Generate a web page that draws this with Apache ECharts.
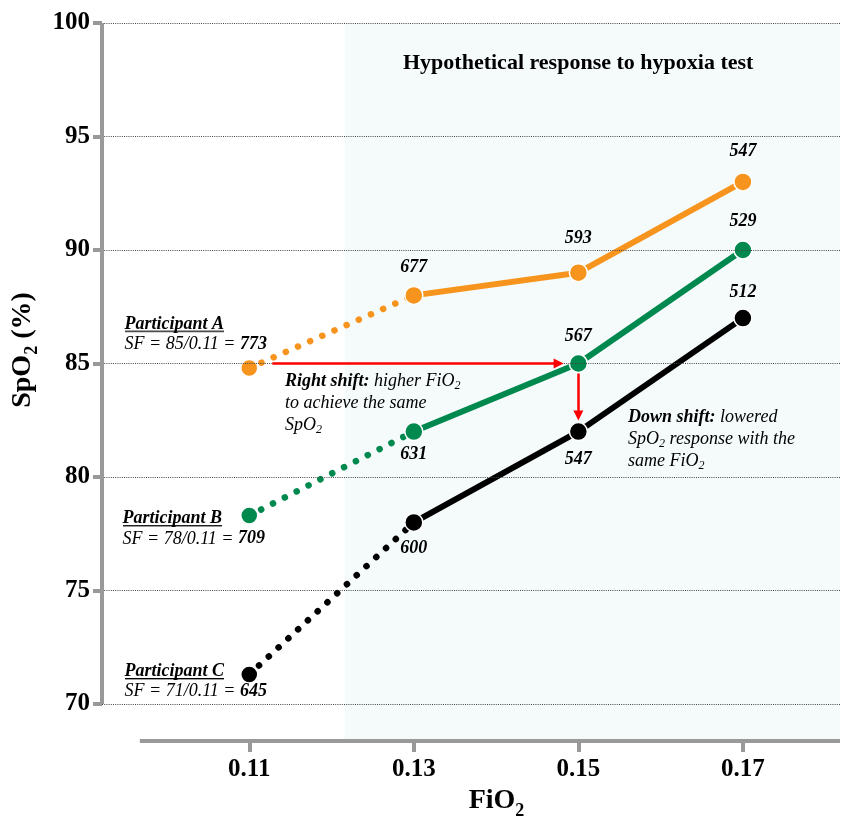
<!DOCTYPE html>
<html>
<head>
<meta charset="utf-8">
<script src="https://cdn.jsdelivr.net/npm/echarts@6/dist/echarts.min.js"></script>
<style>html,body{margin:0;padding:0;background:#fff}#c{width:841px;height:819px}</style>
</head>
<body>
<div id="c"></div>
<script>
// ---- data ----
const fio2 = [0.11, 0.13, 0.15, 0.17];
const spo2A = [84.8, 88, 89, 93];
const spo2B = [78.3, 82, 85, 90];
const spo2C = [71.3, 78, 82, 87];
const sfA = [773, 677, 593, 547];
const sfB = [709, 631, 567, 529];
const sfC = [645, 600, 547, 512];
const baseSpO2 = [85, 78, 71];
const participantNames = ['Participant A', 'Participant B', 'Participant C'];
const yTicks = [70, 75, 80, 85, 90, 95, 100];
const testStartFiO2 = 0.1216;

// ---- layout / style ----
const SERIF = '"Liberation Serif", "Times New Roman", Times, serif';
const X_MIN = 0.0921, X_MAX = 0.1818, Y_MIN = 68.37, Y_MAX = 100;
const X_AXIS_START = 0.0967;
const COLORS = ['#f7941d', '#00894f', '#000000'];
const LABEL_CFG = [
  [{position: 'top', distance: 9}, {position: 'top', distance: 16}, {position: 'top', distance: 12}],
  [{position: 'bottom', distance: 4}, {position: 'top', distance: 8}, {position: 'top', distance: 10}],
  [{position: 'bottom', distance: 7}, {position: 'bottom', distance: 9}, {position: 'top', distance: 7}]
];
const PART_LABEL_POS = [[-115.5, -44.5], [-117.5, 2.5], [-115.5, -3.5]];

function underlineImg() {
  const c = document.createElement('canvas');
  c.width = 8; c.height = 20;
  const g = c.getContext('2d');
  g.fillStyle = '#000';
  g.fillRect(0, 17, 8, 1.4);
  return c;
}
const UL = underlineImg();

const txt = (extra) => Object.assign({fontFamily: SERIF, color: '#000'}, extra);

const partRich = {
  u: txt({fontSize: 18, fontStyle: 'italic', fontWeight: 'bold', lineHeight: 20, backgroundColor: {image: UL}}),
  t: txt({fontSize: 18, fontStyle: 'italic', lineHeight: 20}),
  b: txt({fontSize: 18, fontStyle: 'italic', fontWeight: 'bold', lineHeight: 20})
};

function participantSeries(idx, ys, sfs) {
  const color = COLORS[idx];
  const solidData = [1, 2, 3].map((k, j) => ({
    value: [fio2[k], ys[k]],
    label: Object.assign({show: true, formatter: String(sfs[k])}, LABEL_CFG[idx][j])
  }));
  const dottedData = [
    {
      value: [fio2[0], ys[0]],
      symbol: 'circle',
      symbolSize: 17,
      label: {
        show: true,
        position: PART_LABEL_POS[idx],
        align: 'left',
        verticalAlign: 'top',
        formatter: '{u|' + participantNames[idx] + '}\n{t|SF = ' + baseSpO2[idx] + '/' + fio2[0].toFixed(2) + ' = }{b|' + sfs[0] + '}',
        rich: partRich
      }
    },
    {value: [fio2[1], ys[1]], symbol: 'none'}
  ];
  return [
    {
      type: 'line', z: 3, data: dottedData, silent: true,
      itemStyle: {color: color, borderColor: '#fff', borderWidth: 1.5},
      lineStyle: {color: color, width: 6.5, type: [0.1, 13.2], cap: 'round'},
      emphasis: {disabled: true}
    },
    {
      type: 'line', z: 4, data: solidData, silent: true,
      symbol: 'circle', symbolSize: 18,
      itemStyle: {color: color, borderColor: '#fff', borderWidth: 1.5},
      lineStyle: {color: color, width: 6},
      label: txt({fontSize: 18, fontStyle: 'italic', fontWeight: 'bold'}),
      emphasis: {disabled: true}
    }
  ];
}

const annRich = {
  rb: txt({fontSize: 18, fontStyle: 'italic', fontWeight: 'bold', lineHeight: 22}),
  ri: txt({fontSize: 18, fontStyle: 'italic', lineHeight: 22}),
  rs: txt({fontSize: 12, fontStyle: 'italic', verticalAlign: 'top', padding: [10, 0, 0, 0]})
};

const chart = echarts.init(document.getElementById('c'), null, {renderer: 'canvas'});

const option = {
  animation: false,
  backgroundColor: '#fff',
  title: {
    text: 'Hypothetical response to hypoxia test',
    left: 403, top: 52, padding: 0,
    textStyle: txt({fontSize: 22, fontWeight: 'bold'})
  },
  grid: {left: 102, right: 1, top: 23, bottom: 78, containLabel: false, outerBoundsMode: 'none'},
  xAxis: {
    type: 'value', min: X_MIN, max: X_MAX,
    axisLine: {show: false},
    axisTick: {show: true, customValues: fio2, length: 11, lineStyle: {color: '#999', width: 4}},
    axisLabel: Object.assign({customValues: fio2, formatter: v => v.toFixed(2), margin: 16, fontSize: 25, fontWeight: 'bold'}, txt({})),
    splitLine: {show: false},
    name: '{m|FiO}{s|2}',
    nameLocation: 'middle', nameGap: 36,
    nameTextStyle: {
      padding: [0, 0, 0, 51],
      rich: {
        m: txt({fontSize: 28, fontWeight: 'bold'}),
        s: txt({fontSize: 18, fontWeight: 'bold', verticalAlign: 'top', padding: [20, 0, 0, 0]})
      }
    }
  },
  yAxis: {
    type: 'value', min: Y_MIN, max: Y_MAX,
    axisLine: {show: false},
    axisTick: {show: true, customValues: yTicks, length: 9, lineStyle: {color: '#999', width: 4}},
    axisLabel: Object.assign({customValues: yTicks, margin: 12, fontSize: 25, fontWeight: 'bold'}, txt({})),
    splitLine: {show: false},
    name: '{m|SpO}{s|2}{m| (%)}',
    nameLocation: 'middle', nameGap: 56,
    nameTextStyle: {
      padding: [0, 0, 0, 64],
      rich: {
        m: txt({fontSize: 28, fontWeight: 'bold'}),
        s: txt({fontSize: 18, fontWeight: 'bold', verticalAlign: 'top', padding: [20, 0, 0, 0]})
      }
    }
  },
  series: [
    // shaded test region
    {
      type: 'line', z: 0, data: [], silent: true, clip: false,
      markArea: {
        silent: true,
        itemStyle: {color: '#f5fbfb'},
        data: [[{coord: [testStartFiO2, Y_MIN]}, {coord: [X_MAX, Y_MAX]}]]
      }
    },
    // gridlines
    {
      type: 'line', z: 1, data: [], silent: true, clip: false,
      markLine: {
        silent: true, symbol: 'none', label: {show: false},
        lineStyle: {color: '#444', width: 1, type: [1, 1.2]},
        data: yTicks.map(v => ({yAxis: v}))
      }
    },
    // axis lines
    {
      type: 'line', z: 6, data: [], silent: true, clip: false,
      markLine: {
        silent: true, symbol: 'none', label: {show: false},
        lineStyle: {color: '#999', width: 4, type: 'solid', cap: 'butt'},
        data: [
          [{coord: [X_MIN, yTicks[0]]}, {coord: [X_MIN, yTicks[yTicks.length - 1]]}],
          [{coord: [X_AXIS_START, Y_MIN]}, {coord: [X_MAX, Y_MIN]}]
        ]
      }
    },
    ...participantSeries(0, spo2A, sfA),
    ...participantSeries(1, spo2B, sfB),
    ...participantSeries(2, spo2C, sfC),
    // arrows and annotations
    {
      type: 'line', z: 5, data: [], silent: true, clip: false,
      markLine: {
        silent: true, symbol: ['none', 'triangle'], symbolSize: 10, label: {show: false},
        lineStyle: {color: '#ff0000', width: 2.5, type: 'solid'},
        data: [
          [{coord: [0.1128, 85]}, {coord: [0.1476, 85]}],
          [{coord: [0.15, 84.56]}, {coord: [0.15, 82.71]}]
        ]
      },
      markPoint: {
        silent: true, symbol: 'circle', symbolSize: 1,
        itemStyle: {color: 'rgba(0,0,0,0)'},
        label: {show: true, position: [0, 0], align: 'left', verticalAlign: 'top', rich: annRich},
        data: [
          {coord: [0.1144, 84.69], label: {formatter: '{rb|Right shift:}{ri| higher FiO}{rs|2}\n{ri|to achieve the same}\n{ri|SpO}{rs|2}'}},
          {coord: [0.1561, 83.11], label: {formatter: '{rb|Down shift:}{ri| lowered}\n{ri|SpO}{rs|2}{ri| response with the}\n{ri|same FiO}{rs|2}'}}
        ]
      }
    }
  ]
};
chart.setOption(option);
</script>
</body>
</html>
